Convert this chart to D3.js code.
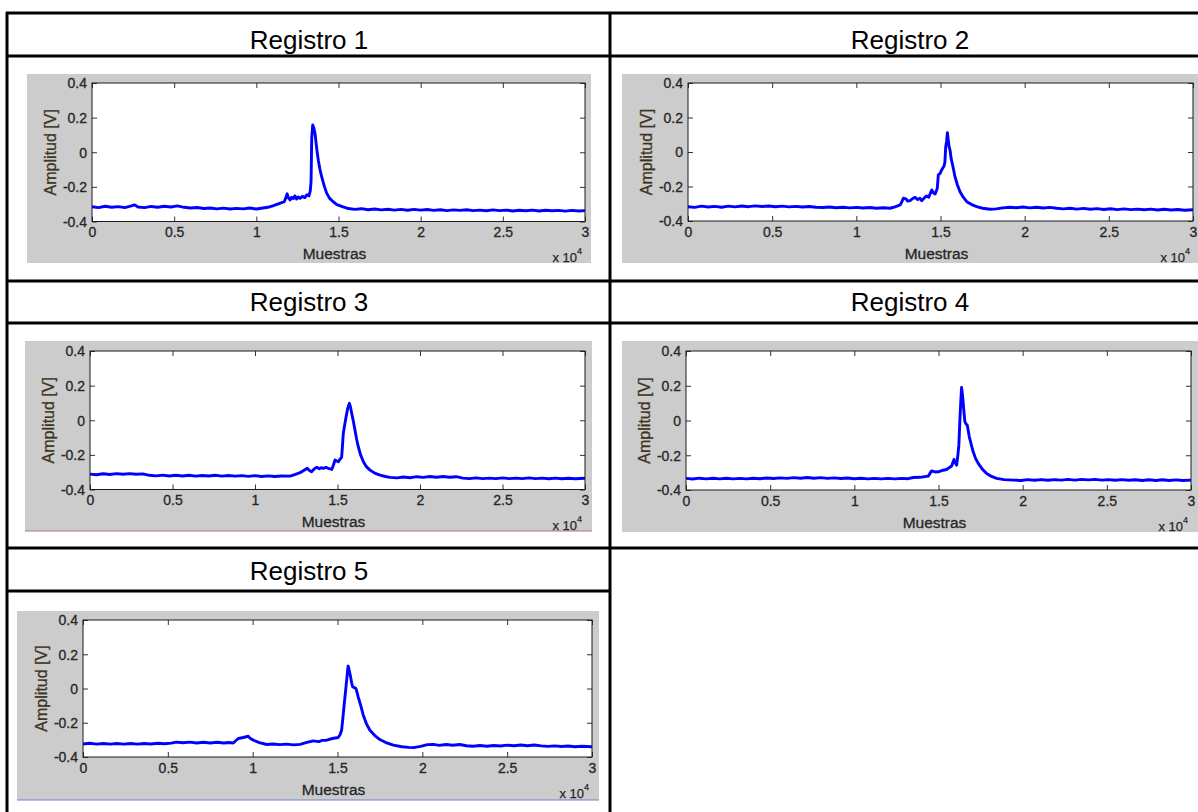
<!DOCTYPE html>
<html>
<head>
<meta charset="utf-8">
<script src="https://cdn.jsdelivr.net/npm/d3@7"></script>
<style>
html,body{margin:0;padding:0;background:#fff;}
svg{display:block;}
text{font-family:"Liberation Sans",Arial,sans-serif;}
</style>
</head>
<body>
<svg id="chart" width="1198" height="812"></svg>
<script>
// ---------------- DATA ----------------
const titles = ["Registro 1", "Registro 2", "Registro 3", "Registro 4", "Registro 5"];
const xLabel = "Muestras";
const yLabel = "Amplitud [V]";
const xTicks = [0, 5000, 10000, 15000, 20000, 25000, 30000];
const xTickLabels = ["0", "0.5", "1", "1.5", "2", "2.5", "3"];
const yTicks = [-0.4, -0.2, 0, 0.2, 0.4];
const yTickLabels = ["-0.4", "-0.2", "0", "0.2", "0.4"];
const xDomain = [0, 30000];
const yDomain = [-0.4, 0.4];

// [sample, amplitude V]
const registro1 = [[0,-0.315],[400,-0.32],[800,-0.312],[1200,-0.318],[1600,-0.314],[2000,-0.32],[2400,-0.31],[2600,-0.304],[2800,-0.316],[3200,-0.32],[3600,-0.313],[4000,-0.318],[4400,-0.312],[4800,-0.316],[5200,-0.31],[5600,-0.318],[6000,-0.322],[6400,-0.319],[6800,-0.325],[7200,-0.322],[7600,-0.327],[8000,-0.323],[8400,-0.328],[8800,-0.324],[9200,-0.327],[9600,-0.322],[10000,-0.328],[10400,-0.322],[10700,-0.318],[11000,-0.31],[11300,-0.3],[11500,-0.293],[11700,-0.286],[11800,-0.262],[11870,-0.24],[11950,-0.262],[12050,-0.276],[12150,-0.26],[12250,-0.268],[12350,-0.252],[12450,-0.27],[12550,-0.258],[12660,-0.267],[12800,-0.255],[12950,-0.262],[13080,-0.245],[13200,-0.252],[13280,-0.225],[13330,-0.17],[13370,0.08],[13430,0.157],[13500,0.14],[13570,0.11],[13640,0.05],[13710,-0.005],[13780,-0.05],[13840,-0.083],[13880,-0.103],[14000,-0.15],[14150,-0.2],[14280,-0.236],[14450,-0.265],[14680,-0.286],[14900,-0.302],[15280,-0.315],[15600,-0.325],[16000,-0.33],[16400,-0.326],[16800,-0.332],[17200,-0.328],[17600,-0.333],[18000,-0.329],[18400,-0.334],[18800,-0.33],[19200,-0.335],[19600,-0.33],[20000,-0.334],[20400,-0.331],[20800,-0.336],[21200,-0.332],[21600,-0.337],[22000,-0.333],[22400,-0.336],[22800,-0.332],[23200,-0.337],[23600,-0.334],[24000,-0.338],[24400,-0.333],[24800,-0.337],[25200,-0.334],[25600,-0.339],[26000,-0.335],[26400,-0.338],[26800,-0.334],[27200,-0.339],[27600,-0.335],[28000,-0.338],[28400,-0.336],[28800,-0.34],[29200,-0.336],[29600,-0.339],[30000,-0.337]];

const registro2 = [[0,-0.317],[400,-0.321],[800,-0.314],[1200,-0.319],[1600,-0.315],[2000,-0.32],[2400,-0.314],[2800,-0.318],[3200,-0.313],[3600,-0.317],[4000,-0.312],[4400,-0.316],[4800,-0.313],[5200,-0.317],[5600,-0.314],[6000,-0.318],[6400,-0.315],[6800,-0.319],[7200,-0.316],[7600,-0.32],[8000,-0.322],[8400,-0.319],[8800,-0.323],[9200,-0.32],[9600,-0.324],[10000,-0.321],[10400,-0.325],[10800,-0.322],[11200,-0.326],[11600,-0.323],[12000,-0.326],[12300,-0.318],[12600,-0.307],[12700,-0.29],[12790,-0.268],[12950,-0.272],[13050,-0.285],[13190,-0.282],[13350,-0.27],[13490,-0.263],[13650,-0.276],[13780,-0.268],[13880,-0.282],[14050,-0.265],[14180,-0.255],[14300,-0.262],[14480,-0.22],[14580,-0.238],[14680,-0.243],[14810,-0.21],[14870,-0.133],[14970,-0.125],[15070,-0.104],[15210,-0.081],[15260,-0.06],[15310,0.03],[15360,0.06],[15410,0.112],[15460,0.07],[15510,0.031],[15570,0.01],[15630,-0.037],[15750,-0.09],[15860,-0.143],[16000,-0.19],[16160,-0.23],[16350,-0.262],[16560,-0.288],[16850,-0.305],[17150,-0.317],[17500,-0.326],[17940,-0.332],[18300,-0.33],[18700,-0.324],[19130,-0.32],[19500,-0.323],[19900,-0.319],[20300,-0.324],[20700,-0.32],[21100,-0.325],[21500,-0.321],[21900,-0.326],[22300,-0.33],[22700,-0.326],[23100,-0.331],[23500,-0.327],[23900,-0.332],[24300,-0.328],[24700,-0.333],[25100,-0.329],[25500,-0.334],[25900,-0.33],[26300,-0.334],[26700,-0.331],[27100,-0.335],[27500,-0.331],[27900,-0.336],[28300,-0.332],[28700,-0.336],[29100,-0.333],[29500,-0.338],[30000,-0.335]];

const registro3 = [[0,-0.311],[400,-0.315],[800,-0.309],[1200,-0.313],[1600,-0.308],[2000,-0.312],[2400,-0.308],[2800,-0.312],[3200,-0.31],[3600,-0.318],[4000,-0.321],[4400,-0.317],[4800,-0.322],[5200,-0.318],[5600,-0.322],[6000,-0.318],[6400,-0.323],[6800,-0.319],[7200,-0.322],[7600,-0.318],[8000,-0.323],[8400,-0.319],[8800,-0.323],[9200,-0.32],[9600,-0.324],[10000,-0.32],[10400,-0.325],[10800,-0.321],[11200,-0.325],[11600,-0.322],[12120,-0.323],[12450,-0.312],[12730,-0.303],[12950,-0.29],[13170,-0.278],[13300,-0.29],[13430,-0.297],[13600,-0.28],[13740,-0.272],[13900,-0.28],[14000,-0.274],[14140,-0.278],[14300,-0.272],[14500,-0.28],[14650,-0.284],[14750,-0.26],[14850,-0.23],[14950,-0.235],[15050,-0.24],[15150,-0.225],[15250,-0.214],[15300,-0.15],[15350,-0.076],[15430,-0.03],[15520,0.02],[15620,0.07],[15720,0.098],[15790,0.075],[15860,0.04],[15960,-0.005],[16060,-0.057],[16160,-0.11],[16260,-0.153],[16400,-0.2],[16570,-0.24],[16750,-0.268],[16970,-0.288],[17250,-0.305],[17580,-0.317],[17900,-0.325],[18180,-0.33],[18600,-0.333],[19000,-0.328],[19400,-0.332],[19800,-0.326],[20200,-0.33],[20600,-0.325],[21000,-0.329],[21400,-0.325],[21800,-0.329],[22200,-0.326],[22600,-0.334],[23000,-0.337],[23400,-0.333],[23800,-0.337],[24200,-0.334],[24600,-0.337],[25000,-0.333],[25400,-0.337],[25800,-0.334],[26200,-0.337],[26600,-0.333],[27000,-0.337],[27400,-0.334],[27800,-0.338],[28200,-0.334],[28600,-0.338],[29000,-0.335],[29400,-0.338],[30000,-0.335]];

const registro4 = [[0,-0.333],[400,-0.337],[800,-0.332],[1200,-0.336],[1600,-0.332],[2000,-0.336],[2400,-0.332],[2800,-0.336],[3200,-0.333],[3600,-0.336],[4000,-0.332],[4400,-0.335],[4800,-0.331],[5200,-0.334],[5600,-0.33],[6000,-0.333],[6400,-0.329],[6800,-0.332],[7200,-0.328],[7600,-0.332],[8000,-0.329],[8400,-0.333],[8800,-0.33],[9200,-0.334],[9600,-0.331],[10000,-0.335],[10400,-0.332],[10800,-0.336],[11200,-0.333],[11600,-0.336],[12000,-0.333],[12400,-0.336],[12800,-0.333],[13200,-0.335],[13500,-0.328],[13900,-0.327],[14390,-0.32],[14590,-0.29],[14800,-0.296],[14980,-0.295],[15200,-0.288],[15480,-0.282],[15650,-0.27],[15780,-0.262],[15920,-0.224],[16000,-0.245],[16080,-0.257],[16150,-0.2],[16210,-0.142],[16270,0.002],[16320,0.1],[16370,0.19],[16420,0.15],[16470,0.098],[16520,0.04],[16570,-0.008],[16640,-0.02],[16710,-0.027],[16770,-0.06],[16830,-0.094],[16950,-0.14],[17060,-0.18],[17200,-0.218],[17360,-0.247],[17600,-0.28],[17860,-0.305],[18150,-0.322],[18450,-0.333],[18900,-0.34],[19440,-0.343],[19900,-0.345],[20300,-0.34],[20700,-0.344],[21100,-0.34],[21500,-0.344],[21900,-0.34],[22300,-0.343],[22700,-0.339],[23100,-0.343],[23500,-0.339],[23900,-0.342],[24300,-0.339],[24700,-0.343],[25100,-0.34],[25500,-0.344],[25900,-0.34],[26300,-0.344],[26700,-0.341],[27100,-0.345],[27500,-0.341],[27900,-0.345],[28300,-0.341],[28700,-0.345],[29100,-0.342],[29500,-0.345],[30000,-0.343]];

const registro5 = [[0,-0.324],[400,-0.32],[800,-0.325],[1200,-0.321],[1600,-0.325],[2000,-0.321],[2400,-0.325],[2800,-0.321],[3200,-0.325],[3600,-0.321],[4000,-0.324],[4400,-0.32],[4800,-0.323],[5200,-0.319],[5500,-0.313],[5900,-0.317],[6300,-0.313],[6700,-0.318],[7100,-0.314],[7500,-0.318],[7900,-0.314],[8300,-0.318],[8600,-0.315],[8860,-0.318],[9000,-0.305],[9150,-0.292],[9450,-0.286],[9740,-0.279],[9850,-0.29],[10040,-0.302],[10400,-0.316],[10830,-0.327],[11200,-0.324],[11600,-0.328],[12000,-0.325],[12400,-0.329],[12790,-0.326],[13200,-0.315],[13570,-0.306],[13900,-0.31],[14100,-0.303],[14360,-0.302],[14700,-0.292],[15040,-0.286],[15150,-0.27],[15240,-0.244],[15310,-0.18],[15380,-0.107],[15460,-0.03],[15540,0.049],[15600,0.11],[15630,0.131],[15700,0.1],[15770,0.068],[15830,0.035],[15890,0.01],[15990,0.005],[16090,0.0],[16220,-0.049],[16370,-0.1],[16520,-0.156],[16700,-0.205],[16910,-0.244],[17200,-0.275],[17500,-0.298],[17900,-0.318],[18290,-0.331],[18800,-0.34],[19200,-0.344],[19470,-0.345],[19900,-0.338],[20300,-0.328],[20640,-0.326],[21000,-0.332],[21400,-0.327],[21800,-0.331],[22200,-0.327],[22600,-0.334],[23000,-0.337],[23400,-0.333],[23800,-0.337],[24200,-0.333],[24600,-0.336],[25000,-0.331],[25400,-0.334],[25800,-0.33],[26200,-0.334],[26600,-0.33],[27000,-0.335],[27400,-0.338],[27800,-0.335],[28200,-0.339],[28600,-0.336],[29000,-0.34],[29400,-0.337],[30000,-0.34]];

const series = [registro1, registro2, registro3, registro4, registro5];

// ---------------- LAYOUT ----------------
const layout = [
  {tx: 309, ty: 49,  gray: [27, 74, 564, 189],  plot: [92, 585, 83, 221.5], edge: null},
  {tx: 910, ty: 49,  gray: [622, 74, 576, 189], plot: [688, 1193, 83, 221], edge: null},
  {tx: 309, ty: 311, gray: [25, 341, 567, 190], plot: [90, 585, 351, 489.5], edge: "#b07a7a"},
  {tx: 910, ty: 311, gray: [622, 341, 576, 191], plot: [686, 1191, 351, 490], edge: null},
  {tx: 309, ty: 580, gray: [17, 611, 582, 189], plot: [83, 592, 620, 757], edge: "#6a86c8"}
];

const svg = d3.select("#chart");

// table grid
const grid = svg.append("g").attr("stroke", "#000").attr("stroke-width", 3);
const hLines = [[6, 1198, 13], [6, 1198, 56], [6, 1198, 281], [6, 1198, 323], [6, 1198, 548], [6, 610, 591]];
hLines.forEach(([a, b, y]) => grid.append("line").attr("x1", a).attr("x2", b).attr("y1", y).attr("y2", y));
const vLines = [[7, 12, 812], [610, 12, 812]];
vLines.forEach(([x, a, b]) => grid.append("line").attr("x1", x).attr("x2", x).attr("y1", a).attr("y2", b));

series.forEach((data, i) => {
  const L = layout[i];
  // title
  svg.append("text").attr("x", L.tx).attr("y", L.ty).attr("text-anchor", "middle")
    .attr("font-size", 26).attr("fill", "#000").text(titles[i]);

  const [gx, gy, gw, gh] = L.gray;
  svg.append("rect").attr("x", gx).attr("y", gy).attr("width", gw).attr("height", gh).attr("fill", "#cccccc");
  if (L.edge) svg.append("line").attr("x1", gx).attr("x2", gx + gw).attr("y1", gy + gh).attr("y2", gy + gh)
    .attr("stroke", L.edge).attr("stroke-width", 1);

  const [l, r, t, b] = L.plot;
  const x = d3.scaleLinear().domain(xDomain).range([l, r]);
  const y = d3.scaleLinear().domain(yDomain).range([b, t]);

  svg.append("rect").attr("x", l).attr("y", t).attr("width", r - l).attr("height", b - t).attr("fill", "#fff");

  const clipId = "clip" + i;
  svg.append("clipPath").attr("id", clipId).append("rect")
    .attr("x", l).attr("y", t - 1).attr("width", r - l).attr("height", b - t + 2);

  const line = d3.line().x(d => x(d[0])).y(d => y(d[1]));
  svg.append("path").datum(data).attr("clip-path", `url(#${clipId})`)
    .attr("d", line).attr("fill", "none").attr("stroke", "#0000ff")
    .attr("stroke-width", 2.9).attr("stroke-linejoin", "round");

  const fmtX = (d) => xTickLabels[xTicks.indexOf(d)];
  const fmtY = (d) => yTickLabels[yTicks.findIndex(v => Math.abs(v - d) < 1e-9)];

  const axB = svg.append("g").attr("transform", `translate(0,${b})`)
    .call(d3.axisBottom(x).tickValues(xTicks).tickFormat(fmtX).tickSizeInner(-5).tickSizeOuter(0).tickPadding(6));
  const axT = svg.append("g").attr("transform", `translate(0,${t})`)
    .call(d3.axisTop(x).tickValues(xTicks).tickFormat("").tickSizeInner(-5).tickSizeOuter(0));
  const axL = svg.append("g").attr("transform", `translate(${l},0)`)
    .call(d3.axisLeft(y).tickValues(yTicks).tickFormat(fmtY).tickSizeInner(-5).tickSizeOuter(0).tickPadding(5));
  const axR = svg.append("g").attr("transform", `translate(${r},0)`)
    .call(d3.axisRight(y).tickValues(yTicks).tickFormat("").tickSizeInner(-5).tickSizeOuter(0));
  [axB, axT, axL, axR].forEach(g => {
    g.select(".domain").remove();
    g.selectAll(".tick line").attr("stroke", "#333").attr("stroke-width", 1);
    g.selectAll(".tick text").attr("fill", "#262626").attr("font-size", 14)
      .attr("stroke", "#262626").attr("stroke-width", 0.3)
      .attr("font-family", "'Liberation Sans', Arial, sans-serif");
  });
  axL.selectAll(".tick text").attr("dy", "0.35em");

  // box
  svg.append("rect").attr("x", l).attr("y", t).attr("width", r - l).attr("height", b - t)
    .attr("fill", "none").attr("stroke", "#1a1a1a").attr("stroke-width", 1);

  // labels
  svg.append("text").attr("x", (l + r) / 2 - 4).attr("y", b + 37.5).attr("text-anchor", "middle")
    .attr("font-size", 15.5).attr("fill", "#262626").attr("stroke", "#262626").attr("stroke-width", 0.3)
    .text(xLabel);
  svg.append("text").attr("transform", `translate(${l - 42},${(t + b) / 2}) rotate(-90)`)
    .attr("text-anchor", "middle").attr("dominant-baseline", "central")
    .attr("font-size", 16).attr("fill", "#3d3420").attr("stroke", "#3d3420").attr("stroke-width", 0.3)
    .text(yLabel);
  const mult = svg.append("text").attr("x", r - 3).attr("y", b + 40.5).attr("text-anchor", "end")
    .attr("font-size", 13).attr("fill", "#262626").attr("stroke", "#262626").attr("stroke-width", 0.25);
  mult.append("tspan").text("x 10");
  mult.append("tspan").attr("font-size", 9).attr("dy", -8).text("4");
});
</script>
</body>
</html>
